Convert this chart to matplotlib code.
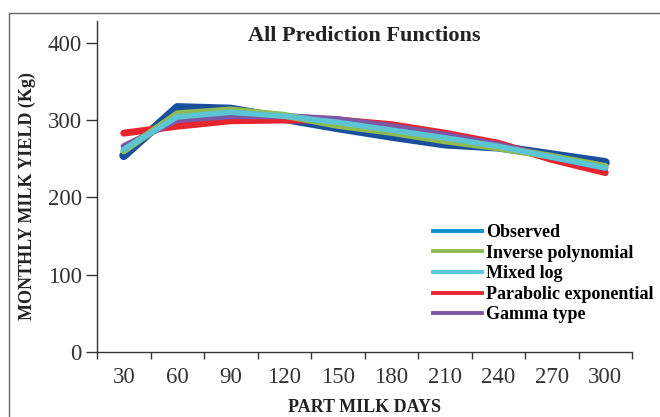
import matplotlib
matplotlib.use('Agg')
import matplotlib.pyplot as plt
from matplotlib.lines import Line2D

plt.rcParams['font.family'] = ['Liberation Serif', 'DejaVu Serif']

# data
days = ['30', '60', '90', '120', '150', '180', '210', '240', '270', '300']
observed = [254, 316, 314, 302, 290, 279, 269, 265, 255, 245]
inverse_poly = [260, 308, 313, 306, 293, 284, 273, 264, 253, 240]
mixed_log = [262, 304, 310, 305, 297, 287, 277, 266, 252, 238]
parabolic_exp = [283, 292, 299, 300, 300, 294, 283, 270, 249, 232]
gamma_type = [266, 300, 305, 305, 301, 292, 281, 268, 252, 238]

legend_labels = ['Observed', 'Inverse polynomial', 'Mixed log',
                 'Parabolic exponential', 'Gamma type']
legend_colors = ['#0f8fd3', '#8fba50', '#5bc5d5', '#e8242e', '#7e57a4']

fig = plt.figure(figsize=(6.6, 4.17), dpi=100)
ax = fig.add_axes([97 / 660, 1 - 352 / 417, (632 - 97) / 660, (352 - 21) / 417])

xs = [i + 0.5 for i in range(len(days))]
# drawn back to front
ax.plot(xs, observed, color='#1a4f9e', lw=6.5, solid_capstyle='round', solid_joinstyle='round')
ax.plot(xs, parabolic_exp, color='#e8242e', lw=5, solid_capstyle='round', solid_joinstyle='round')
ax.plot(xs, gamma_type, color='#7e57a4', lw=4.5, solid_capstyle='round', solid_joinstyle='round')
ax.plot(xs, inverse_poly, color='#8fba50', lw=5, solid_capstyle='round', solid_joinstyle='round')
ax.plot(xs, mixed_log, color='#5bc5d5', lw=4, solid_capstyle='round', solid_joinstyle='round')

ax.set_xlim(0, len(days))
ax.set_ylim(0, 428)
ax.set_xticks(range(len(days) + 1))
ax.set_xticklabels([])
ax.set_xticks(xs, minor=True)
ax.set_xticklabels(days, minor=True)
ax.set_yticks([0, 100, 200, 300, 400])

ax.spines['top'].set_visible(False)
ax.spines['right'].set_visible(False)
for s in ['left', 'bottom']:
    ax.spines[s].set_color('#333333')
    ax.spines[s].set_linewidth(1.0)

ax.tick_params(axis='y', which='major', length=8, width=1, color='#333333',
               labelsize=16.5, labelcolor='#333333', pad=3)
ax.tick_params(axis='x', which='major', length=5, width=1, color='#333333')
ax.tick_params(axis='x', which='minor', length=0, labelsize=16.5,
               labelcolor='#333333', pad=11)

ax.text(0.5, 0.955, 'All Prediction Functions', transform=ax.transAxes,
        ha='center', va='center', fontsize=16, fontweight='bold', color='#222222')

fig.text(27 / 660, 1 - 196 / 417, 'MONTHLY MILK YIELD (Kg)', rotation=90,
         ha='center', va='center', fontsize=13, fontweight='bold', color='#222222')
fig.text(364 / 660, 1 - 408 / 417, 'PART MILK DAYS', ha='center', va='center',
         fontsize=13, fontweight='bold', color='#222222')

handles = [Line2D([], [], color=c, lw=2.8) for c in legend_colors]
ax.legend(handles, legend_labels, loc='upper left', frameon=False,
          bbox_to_anchor=(433 / 660, 1 - 224 / 417), bbox_transform=fig.transFigure,
          prop={'weight': 'bold', 'size': 13},
          handlelength=2.7, handletextpad=0.22, labelspacing=0.2,
          borderaxespad=0, borderpad=0)

# frame around the figure (left and top edges only visible)
fig.add_artist(Line2D([9 / 660, 9 / 660, 1.0], [0.0, 1 - 13 / 417, 1 - 13 / 417],
                      transform=fig.transFigure, color='#666666', lw=1))

fig.savefig('out.png', dpi=100)
